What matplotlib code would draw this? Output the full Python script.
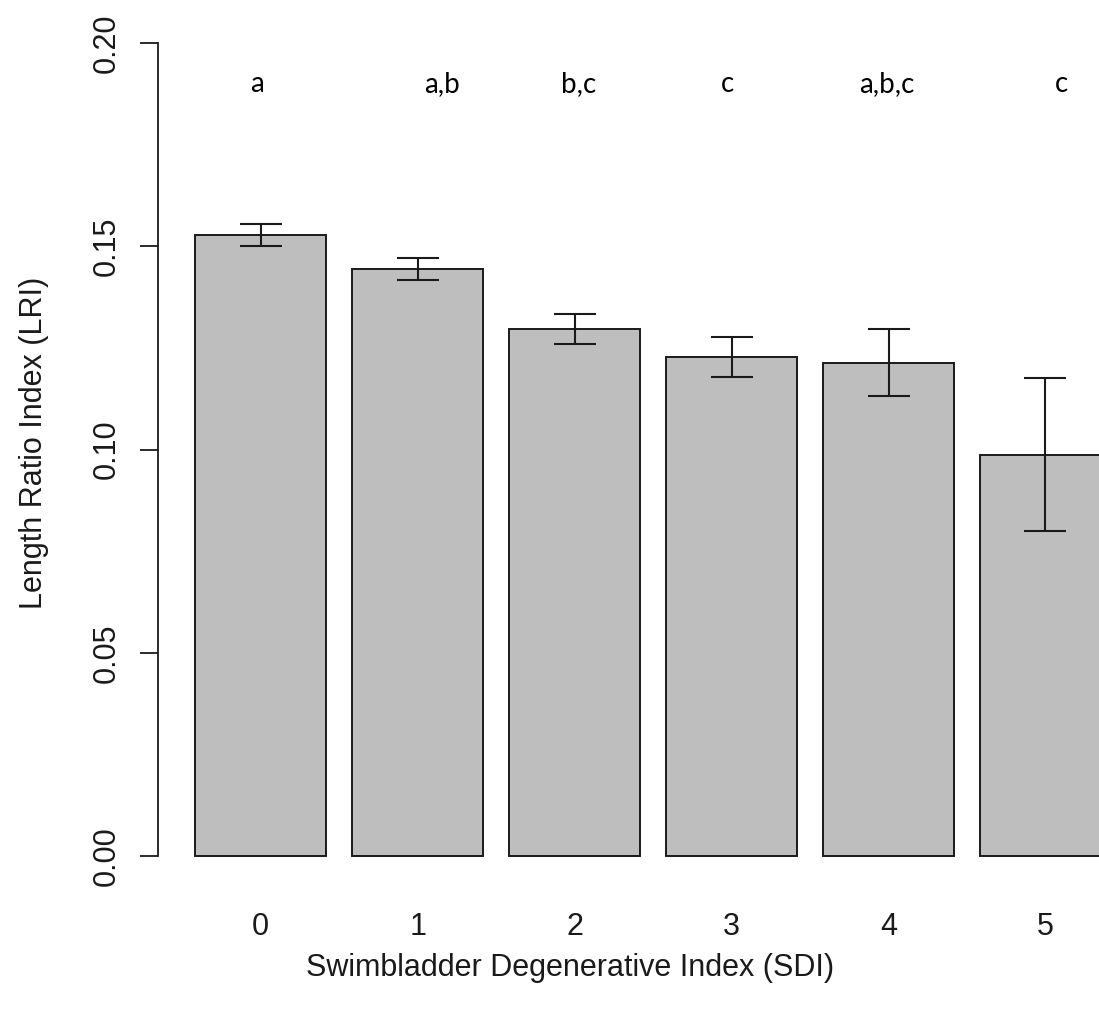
import matplotlib
matplotlib.use("Agg")
import matplotlib.pyplot as plt
import numpy as np

# Data
categories = ["0", "1", "2", "3", "4", "5"]
lri_means = [0.1529, 0.1444, 0.1296, 0.1227, 0.1214, 0.0987]
lri_err = [0.0027, 0.0027, 0.0037, 0.0049, 0.0082, 0.0188]
letters = ["a", "a,b", "b,c", "c", "a,b,c", "c"]
y_ticks = [0.00, 0.05, 0.10, 0.15, 0.20]
y_tick_labels = ["0.00", "0.05", "0.10", "0.15", "0.20"]

# Layout (R barplot style: width 1, space 0.2)
W, H = 1099, 1015
fig = plt.figure(figsize=(W / 100, H / 100), dpi=100)
left_px, right_px = 158, 1099
bot_px, top_px = 888.5, 10.7
ax = fig.add_axes([left_px / W, 1 - bot_px / H, (right_px - left_px) / W, (bot_px - top_px) / H])

xpos = np.array([0.7 + 1.2 * i for i in range(len(categories))])
letter_offsets = [-0.03, 0.19, 0.03, -0.03, -0.01, 0.12]

ax.bar(xpos, lri_means, width=1.0, color="#BEBEBE", edgecolor="#1a1a1a", linewidth=1.4, zorder=2)
ax.errorbar(xpos, lri_means, yerr=lri_err, fmt="none", ecolor="#1a1a1a",
            elinewidth=1.5, capsize=15, capthick=1.5, zorder=3)

for x, off, lab in zip(xpos, letter_offsets, letters):
    ax.text(x + off, 0.190, lab, ha="center", va="center", fontsize=20,
            family=["Lato", "DejaVu Sans"], color="black")

ax.set_xlim(-0.085, (right_px - 169.1) / 130.8)
ax.set_ylim(-0.008, 0.208)

for s in ["top", "right", "bottom"]:
    ax.spines[s].set_visible(False)
ax.spines["left"].set_bounds(0, 0.2)
ax.spines["left"].set_linewidth(1.3)
ax.spines["left"].set_color("#1a1a1a")

ax.set_yticks(y_ticks)
ax.set_yticklabels(y_tick_labels, rotation=90, va="center", ha="right",
                   fontsize=22, family="Liberation Sans", color="#1a1a1a")
ax.tick_params(axis="y", length=13, width=1.3, color="#1a1a1a", pad=13)

ax.set_xticks(xpos)
ax.set_xticklabels(categories, fontsize=22, family="Liberation Sans", color="#1a1a1a")
ax.tick_params(axis="x", length=0, pad=17)

fig.text(570 / W, 1 - 968 / H, "Swimbladder Degenerative Index (SDI)", ha="center", va="center",
         fontsize=22, family="Liberation Sans", color="#1a1a1a")
fig.text(34 / W, 1 - 443 / H, "Length Ratio Index (LRI)", ha="center", va="center", rotation=90,
         fontsize=22, family="Liberation Sans", color="#1a1a1a")

fig.savefig("out.png", dpi=100, facecolor="white")
